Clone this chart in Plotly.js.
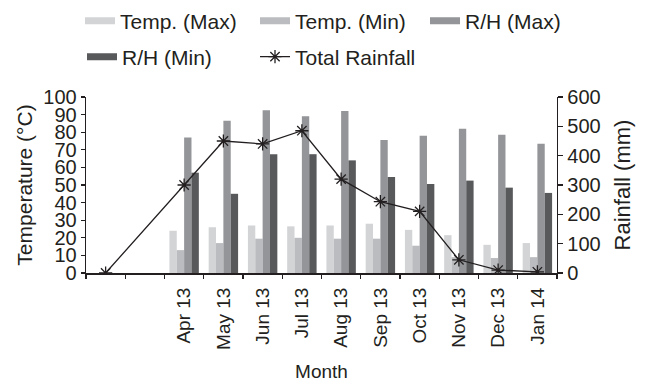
<!DOCTYPE html>
<html>
<head>
<meta charset="utf-8">
<script src="https://cdn.plot.ly/plotly-3.0.1.min.js"></script>
<style>html,body{margin:0;padding:0;background:#fff;}#chart{width:648px;height:385px;}</style>
</head>
<body>
<div id="chart"></div>
<script>
// Category labels (first two slots are unlabeled)
const months = ["", "", "Apr 13", "May 13", "Jun 13", "Jul 13", "Aug 13", "Sep 13", "Oct 13", "Nov 13", "Dec 13", "Jan 14"];
// Temperature (°C) and relative humidity (%) on left axis
const tempMax = [null, null, 24, 26, 27, 26.5, 27, 28, 24.5, 21.5, 16, 17];
const tempMin = [null, null, 13, 17, 19.5, 20, 19.5, 19.5, 15.5, 9, 8.5, 9];
const rhMax   = [null, null, 77, 86.5, 92.5, 89, 92, 75.5, 78, 82, 78.5, 73.5];
const rhMin   = [null, null, 57, 45, 67.5, 67.5, 64, 54.5, 50.5, 52.5, 48.5, 45.5];
// Total rainfall (mm) on right axis
const rainfall = [0, null, 300, 450, 440, 485, 320, 243, 210, 45, 10, 4];

const xs = months.map((_, i) => i + 1);
const bounds = months.map((_, i) => i + 0.5).concat([months.length + 0.5]);

const FONT = "Liberation Sans, Arial, Helvetica, sans-serif";
const INK = "#231f20";
const cols = {tmax: "#d3d4d6", tmin: "#bbbcbf", rhmax: "#939598", rhmin: "#58595b"};

function barTrace(y, name, color) {
  return {type: "bar", x: xs, y: y, name: name, marker: {color: color}, showlegend: false, xaxis: "x", yaxis: "y"};
}
function legendDummy(name, color, legend) {
  return {type: "scatter", mode: "lines", x: [null], y: [null], name: name, legend: legend,
          line: {color: color, width: 7}, xaxis: "x", yaxis: "y", hoverinfo: "skip"};
}

const data = [
  barTrace(tempMax, "Temp. (Max)", cols.tmax),
  barTrace(tempMin, "Temp. (Min)", cols.tmin),
  barTrace(rhMax, "R/H (Max)", cols.rhmax),
  barTrace(rhMin, "R/H (Min)", cols.rhmin),
  legendDummy("Temp. (Max)", cols.tmax, "legend"),
  legendDummy("Temp. (Min)", cols.tmin, "legend2"),
  legendDummy("R/H (Max)", cols.rhmax, "legend3"),
  legendDummy("R/H (Min)", cols.rhmin, "legend4"),
  {type: "scatter", mode: "lines+markers", x: xs, y: rainfall, name: "Total Rainfall",
   connectgaps: true, legend: "legend5", xaxis: "x2", yaxis: "y2",
   line: {color: INK, width: 1.3},
   marker: {symbol: "asterisk-open", size: 11, color: INK, line: {color: INK, width: 1.3}}}
];

function leg(xpx, ypx) {
  return {
    orientation: "h", xref: "container", yref: "container", x: xpx / 648, y: 1 - ypx / 385,
    xanchor: "left", yanchor: "middle",
    font: {size: 21, family: FONT, color: INK}, bgcolor: "rgba(0,0,0,0)"
  };
}

const layout = {
  width: 648, height: 385,
  margin: {l: 86, r: 91, t: 97, b: 112},
  paper_bgcolor: "#fff", plot_bgcolor: "#fff",
  font: {family: FONT, color: INK, size: 20},
  barmode: "group", bargap: 0.25, bargroupgap: 0,
  xaxis: {
    range: [0.5, 12.5], tickmode: "array", tickvals: xs, ticktext: months,
    tickangle: -90, ticks: "", ticklabelstandoff: 5, showgrid: false, zeroline: false,
    showline: true, linecolor: INK, linewidth: 2,
    tickfont: {size: 19, family: FONT, color: INK},
    title: {text: "Month", font: {size: 19, family: FONT, color: INK}, standoff: 16}
  },
  xaxis2: {
    overlaying: "x", anchor: "y", side: "bottom", range: [0.5, 12.5],
    tickmode: "array", tickvals: bounds, ticks: "outside", ticklen: 5, tickwidth: 1.2, tickcolor: INK,
    showticklabels: false, showgrid: false, zeroline: false, showline: false
  },
  yaxis: {
    range: [0, 100], tickmode: "linear", tick0: 0, dtick: 10,
    ticks: "outside", ticklen: 4, tickwidth: 1.2, tickcolor: INK,
    showline: true, linecolor: INK, linewidth: 1.3, showgrid: false, zeroline: false,
    tickfont: {size: 20, family: FONT, color: INK},
    title: {text: "Temperature (°C)", font: {size: 21, family: FONT, color: INK}, standoff: 5}
  },
  yaxis2: {
    overlaying: "y", side: "right", anchor: "x2", range: [0, 600], tickmode: "linear", tick0: 0, dtick: 100,
    ticks: "outside", ticklen: 5, tickwidth: 1.2, tickcolor: INK,
    showline: true, linecolor: INK, linewidth: 1.3, showgrid: false, zeroline: false,
    tickfont: {size: 20, family: FONT, color: INK},
    title: {text: "Rainfall (mm)", font: {size: 22, family: FONT, color: INK}, standoff: 15}
  },
  legend: leg(80, 21),
  legend2: leg(255, 21),
  legend3: leg(425, 21),
  legend4: leg(82, 57),
  legend5: leg(255, 57),
  showlegend: true
};

Plotly.newPlot("chart", data, layout, {displayModeBar: false, staticPlot: true});
</script>
</body>
</html>
